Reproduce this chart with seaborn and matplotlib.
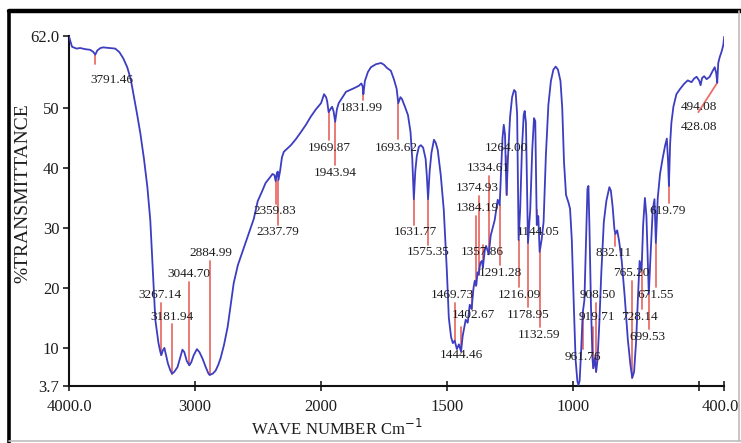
import numpy as np
import pandas as pd
import matplotlib
matplotlib.use("Agg")
import matplotlib.pyplot as plt
import matplotlib.transforms as mtransforms
from matplotlib.lines import Line2D
import seaborn as sns

# FTIR spectrum: wavenumber (cm-1) and % transmittance
wavenumber = [
    4000, 3976, 3940, 3912, 3870, 3833, 3810, 3791.46, 3775, 3750, 3729, 3680, 3633, 3600,
    3570, 3538, 3510, 3490, 3460, 3434, 3405, 3378, 3355, 3335, 3315, 3290, 3275, 3267.14,
    3255, 3243, 3230, 3215, 3195, 3181.94, 3165, 3139, 3115, 3100, 3085, 3065, 3044.70,
    3030, 3010, 2985, 2965, 2940, 2915, 2895, 2884.99, 2860, 2837, 2815, 2797, 2770, 2741,
    2715, 2693, 2660, 2614, 2575, 2534, 2502, 2470, 2440, 2410, 2385, 2370, 2359.83, 2350,
    2343, 2337.79, 2325, 2310, 2295, 2270, 2239, 2200, 2159, 2120, 2080, 2040, 2000, 1988,
    1980, 1976, 1969.87, 1960, 1956, 1950, 1943.94, 1937, 1930, 1921, 1901, 1880, 1869,
    1850, 1840, 1835, 1831.99, 1826, 1814, 1802, 1782, 1762, 1750, 1739, 1723, 1711, 1700,
    1693.62, 1685, 1679, 1667, 1655, 1645, 1638, 1631.77, 1626, 1620, 1612, 1604, 1595,
    1585, 1580, 1575.35, 1569, 1562, 1552, 1545, 1537, 1525, 1513, 1501, 1493, 1484, 1477,
    1469.73, 1461, 1453, 1444.46, 1438, 1426, 1418, 1410, 1402.67, 1395, 1390, 1384.19,
    1379, 1374.93, 1368, 1362, 1357.86, 1350, 1345, 1334.61, 1327, 1318, 1311, 1299,
    1291.28, 1285, 1280, 1275, 1270, 1264.00, 1258, 1250, 1242, 1234, 1228, 1222, 1216.09,
    1210, 1203, 1196, 1192, 1187, 1178.95, 1170, 1162, 1155, 1150, 1144.05, 1138, 1132.59,
    1125, 1117, 1108, 1098, 1088, 1078, 1069, 1060, 1050, 1043, 1036, 1028, 1018, 1012,
    1005, 997, 990, 983, 979, 974, 968, 961.76, 955, 949, 943, 939, 935, 929, 923, 919.71,
    914, 908.50, 903, 896, 888, 878, 868, 856, 850, 843, 836, 832.11, 825, 818, 807, 795,
    783, 772, 765.20, 758, 750, 743, 736, 728.14, 722, 715, 709, 699.53, 692, 684, 677,
    671.55, 664, 655, 645, 635, 628, 623, 619.79, 615, 610, 602, 590, 575, 560, 545, 530,
    520, 510, 500, 494.08, 488, 480, 470, 458, 446, 438, 432, 428.08, 424, 418, 410, 404, 400,
]
transmittance = [
    61.9, 60.2, 59.9, 60.0, 59.8, 59.7, 59.4, 58.9, 59.6, 60.0, 60.1, 60.0, 59.9, 59.3,
    58.3, 56.8, 54.8, 52.5, 49.0, 45.8, 41.5, 36.8, 31.3, 23.0, 14.7, 10.8, 9.3, 8.8,
    9.6, 10.0, 8.8, 7.4, 6.2, 5.7, 6.0, 6.8, 8.6, 9.7, 9.3, 7.8, 7.1,
    7.6, 8.8, 9.8, 9.3, 8.2, 6.8, 5.8, 5.5, 5.7, 6.2, 7.2, 8.3, 10.5, 13.5,
    17.5, 20.8, 23.8, 26.6, 29.0, 31.5, 34.5, 36.0, 37.5, 38.3, 39.0, 38.8, 37.8, 39.2,
    39.4, 38.0, 39.5, 41.8, 42.7, 43.2, 43.8, 44.8, 46.0, 47.2, 48.6, 49.8, 50.8, 52.3,
    51.8, 51.2, 49.3, 50.0, 50.2, 49.4, 47.7, 49.8, 50.8, 51.4, 52.7, 53.1, 53.3,
    53.7, 54.1, 53.6, 52.3, 54.5, 56.0, 56.8, 57.3, 57.5, 57.2, 56.7, 56.2, 54.8, 53.2,
    50.8, 51.8, 51.5, 50.2, 48.8, 46.0, 41.5, 34.8, 39.5, 42.0, 43.5, 43.8, 43.4,
    41.5, 38.5, 34.8, 39.5, 42.5, 44.7, 44.2, 43.0, 38.8, 33.0, 23.0, 15.0, 11.8, 10.8,
    11.2, 9.8, 10.6, 9.4, 12.0, 14.7, 14.2, 17.2, 16.5, 20.0, 21.2, 20.4,
    22.6, 22.2, 24.2, 24.5, 23.4, 26.4, 27.0, 25.6, 28.7, 30.2, 31.3, 34.7,
    33.8, 40.0, 45.0, 47.2, 45.5, 35.5, 42.0, 48.5, 51.8, 53.0, 52.7, 49.0, 28.0,
    33.0, 43.0, 48.8, 49.5, 47.5, 27.5, 33.0, 43.0, 48.3, 47.8, 30.5, 32.0, 26.0,
    28.0, 31.0, 42.0, 50.5, 54.5, 56.4, 56.9, 56.4, 54.5, 50.0, 41.0, 35.5, 34.2, 33.2,
    28.0, 17.0, 8.0, 4.5, 3.8, 4.5, 9.5, 15.8, 18.0, 27.0, 36.5, 37.0, 30.0, 17.0, 8.2, 6.6,
    8.3, 6.0, 8.0, 14.0, 22.5, 31.0, 34.5, 36.8, 36.2, 33.5, 29.8, 29.0, 29.6, 28.0, 24.5, 18.5,
    11.5, 7.0, 5.0, 6.0, 11.0, 18.0, 24.5, 23.0, 30.5, 35.0, 32.0, 19.0, 26.0, 33.0, 34.8,
    27.5, 35.0, 39.0, 41.5, 43.7, 44.9, 41.0, 37.0, 44.0, 47.5, 50.2, 52.3, 53.2, 54.0, 54.6, 54.3,
    54.9, 55.2, 54.6, 53.8, 55.0, 55.3, 54.8, 55.2, 56.2, 56.8, 55.8, 54.2, 57.5, 58.5, 59.5, 60.5, 62.0,
]

# Marked absorption bands (cm-1)
peak_wn = [
    3791.46, 3267.14, 3181.94, 3044.70, 2884.99, 2359.83, 2337.79, 1969.87, 1943.94,
    1831.99, 1693.62, 1631.77, 1575.35, 1469.73, 1444.46, 1402.67, 1384.19, 1374.93,
    1357.86, 1334.61, 1291.28, 1264.00, 1216.09, 1178.95, 1144.05, 1132.59, 961.76,
    919.71, 908.50, 832.11, 765.20, 728.14, 699.53, 671.55, 619.79, 494.08, 428.08,
]

x_ticks = [4000, 3000, 2000, 1500, 1000, 500, 400]
x_tick_labels = ["4000.0", "3000", "2000", "1500", "1000", "", "400.0"]
y_ticks = [3.7, 10, 20, 30, 40, 50, 62.0]
y_tick_labels = ["3.7", "10", "20", "30", "40", "50", "62.0"]

# Label placement: (text centre x, text centre y, end of marker line)
label_layout = [
    (3657, 54.7, 57.3), (3275, 18.8, 17.5), (3180, 15.2, 14.0), (3052, 22.3, 21.0),
    (2876, 25.8, 24.5), (2367, 32.8, 34.0), (2343, 29.3, 30.5), (1968, 43.3, 44.6),
    (1945, 39.2, 40.5), (1840, 50.0, 51.3), (1700, 43.3, 44.8), (1624, 29.3, 30.5),
    (1574, 26.0, 27.2), (1480, 18.8, 17.5), (1444, 8.8, 13.5), (1397, 15.5, 19.5),
    (1381, 33.3, 32.0), (1381, 36.7, 35.3), (1361, 26.0, 27.2), (1337, 40.0, 38.7),
    (1289, 22.5, 23.8), (1266, 43.3, 42.0), (1214, 18.8, 20.1), (1179, 15.5, 16.8),
    (1139, 29.3, 33.0), (1135, 12.2, 13.5), (962, 8.5, 9.8), (906, 15.2, 13.5),
    (902, 18.8, 17.5), (838, 25.8, 27.0), (767, 22.5, 21.2), (735, 15.2, 16.5),
    (704, 11.8, 13.1), (672, 18.8, 20.1), (625, 32.8, 34.1), (500, 50.2, None),
    (500, 46.8, None),
]

df = pd.DataFrame({"wavenumber": wavenumber, "transmittance": transmittance})

sns.set_style("ticks")
plt.rcParams["font.family"] = ["Liberation Serif", "DejaVu Serif"]

fig = plt.figure(figsize=(7.41, 4.43), dpi=100)
ax = fig.add_axes([69 / 741, 1 - 385.7 / 443, (724.3 - 69) / 741, (385.7 - 36) / 443])


# Wavenumber axis is expanded two-fold below 2000 cm-1
def fwd(x):
    x = np.asarray(x, dtype=float)
    return np.where(x >= 2000, x, 2 * x - 2000)


def inv(u):
    u = np.asarray(u, dtype=float)
    return np.where(u >= 2000, u, (u + 2000) / 2)


ax.set_xscale("function", functions=(fwd, inv))

line_color = "#3d3dc2"
mark_color = "#e4574f"
text_color = "#1e1e1e"

sns.lineplot(data=df, x="wavenumber", y="transmittance", ax=ax, sort=False,
             estimator=None, color=line_color, linewidth=1.3, zorder=3)

ax.set_xlim(4000, 400)
ax.set_ylim(3.7, 62.0)

wn_sorted = np.array(wavenumber[::-1])
t_sorted = np.array(transmittance[::-1])


def curve_at(w):
    return float(np.interp(w, wn_sorted, t_sorted))


for wn, (lx, ly, lend) in zip(peak_wn, label_layout):
    ax.text(lx, ly, f"{wn:.2f}", ha="center", va="center", fontsize=9.5,
            color=text_color, zorder=4)
    if lend is not None:
        ax.add_line(Line2D([wn, wn], [curve_at(wn), lend], color=mark_color,
                           linewidth=1.3, alpha=0.85, zorder=2))

# slanted marker running from the 428.08 band down through its label
ax.add_line(Line2D([428.08, 503], [curve_at(428.08), 49.3], color=mark_color,
                   linewidth=1.3, alpha=0.85, zorder=2))

ax.set_xticks(x_ticks)
ax.set_xticklabels(x_tick_labels)
ax.set_yticks(y_ticks)
ax.set_yticklabels(y_tick_labels)
ax.minorticks_off()
ax.tick_params(axis="x", direction="inout", length=7, width=1.2, labelsize=12,
               colors=text_color, pad=6)
ax.tick_params(axis="y", direction="out", length=4, width=1.2, labelsize=12,
               colors=text_color, pad=3)

# keep the last wavenumber label inside the panel
last = ax.get_xticklabels()[-1]
last.set_transform(last.get_transform() +
                   mtransforms.ScaledTranslation(-4 / 100, 0, fig.dpi_scale_trans))

for side in ("top", "right"):
    ax.spines[side].set_visible(False)
for side in ("left", "bottom"):
    ax.spines[side].set_linewidth(1.5)
    ax.spines[side].set_color("#111111")

ax.set_xlabel("WAVE NUMBER Cm$^{-1}$", fontsize=12, color=text_color)
ax.xaxis.set_label_coords(0.408, -0.095)
ax.set_ylabel("%TRANSMITTANCE", fontsize=14, color=text_color)
ax.yaxis.set_label_coords(-0.057, 0.55)

# outer frame around the panel
fig.add_artist(Line2D([9 / 741, 1.0], [1 - 11 / 443, 1 - 11 / 443], transform=fig.transFigure,
                      color="black", linewidth=3.2))
fig.add_artist(Line2D([9 / 741, 9 / 741], [0.0, 1 - 11 / 443], transform=fig.transFigure,
                      color="black", linewidth=2.6))
fig.add_artist(Line2D([9 / 741, 1.0], [2 / 443, 2 / 443], transform=fig.transFigure,
                      color="#bdbdbd", linewidth=1.2))
fig.add_artist(Line2D([739 / 741, 739 / 741], [2 / 443, 1 - 11 / 443], transform=fig.transFigure,
                      color="#bdbdbd", linewidth=1.2))

fig.savefig("out.png", dpi=100)
